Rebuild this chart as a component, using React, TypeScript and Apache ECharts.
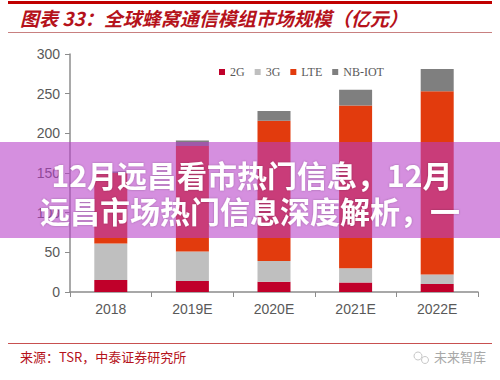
import React, { useEffect, useRef } from "react";
import * as echarts from "echarts";

const categories = ["2018", "2019E", "2020E", "2021E", "2022E"];
const seriesNames = ["2G", "3G", "LTE", "NB-IOT"];
const v2G = [15, 14, 13, 12, 10];
const v3G = [46, 37, 26, 18, 12];
const vLTE = [89, 133, 177, 205, 231];
const vNB = [2, 7, 12, 20, 28];
const seriesColors = ["#C0002A", "#BFBFBF", "#E23B0D", "#7F7F7F"];
const titleText = "图表 33：全球蜂窝通信模组市场规模（亿元）";
const sourceText = "来源：TSR，中泰证券研究所";
const overlayLine1 = "12月远昌看市热门信息，12月";
const overlayLine2 = "远昌市场热门信息深度解析，一";

export default function App() {
  const ref = useRef<HTMLDivElement>(null);
  useEffect(() => {
    document.body.style.margin = "0";
    const chart = echarts.init(ref.current!, null, { renderer: "svg" });
    const values = [v2G, v3G, vLTE, vNB];
    chart.setOption({
      animation: false,
      backgroundColor: "#ffffff",
      grid: { left: 70, right: 22, top: 54, bottom: 88, containLabel: false },
      legend: {
        data: seriesNames,
        left: 214,
        top: 61,
        itemWidth: 6,
        itemHeight: 6,
        itemGap: 10,
        icon: "rect",
        textStyle: { fontFamily: "Liberation Serif", fontSize: 12, color: "#595959" },
      },
      xAxis: {
        type: "category",
        data: categories,
        axisLine: { lineStyle: { color: "#8C8C8C", width: 1.5 } },
        axisTick: { show: true, length: 5, lineStyle: { color: "#8C8C8C" } },
        axisLabel: { fontFamily: "Liberation Sans", fontSize: 14, color: "#595959", margin: 10 },
      },
      yAxis: {
        type: "value",
        min: 0,
        max: 300,
        interval: 50,
        splitLine: { show: false },
        axisLine: { show: true, lineStyle: { color: "#8C8C8C", width: 1.5 } },
        axisTick: { show: true, length: 5, lineStyle: { color: "#8C8C8C" } },
        axisLabel: { fontFamily: "Liberation Sans", fontSize: 14, color: "#595959", margin: 10 },
      },
      series: seriesNames.map((name, i) => ({
        name,
        type: "bar",
        stack: "total",
        barWidth: 33,
        data: values[i],
        itemStyle: { color: seriesColors[i] },
      })),
      graphic: [
        { type: "rect", shape: { x: 8, y: 1, width: 484, height: 3 }, style: { fill: "#C00000" } },
        {
          type: "text",
          left: 20,
          top: 8,
          style: {
            text: titleText,
            fontFamily: "Noto Sans CJK SC",
            fontWeight: "bold",
            fontStyle: "italic",
            fontSize: 19,
            fill: "#B5121B",
          },
        },
        { type: "rect", shape: { x: 8, y: 32, width: 484, height: 1 }, style: { fill: "#C88080" } },
        { type: "rect", shape: { x: 8, y: 343, width: 484, height: 1 }, style: { fill: "#C85050" } },
        {
          type: "text",
          left: 20,
          top: 350,
          style: {
            text: sourceText,
            fontFamily: "Noto Sans CJK SC",
            fontSize: 13,
            fill: "#B5121B",
          },
        },
        { type: "circle", shape: { cx: 418, cy: 356, r: 4 }, style: { fill: "none", stroke: "#C8C8C8", lineWidth: 1 } },
        { type: "circle", shape: { cx: 425, cy: 360, r: 3.5 }, style: { fill: "none", stroke: "#C8C8C8", lineWidth: 1 } },
        {
          type: "text",
          left: 434,
          top: 350,
          style: {
            text: "未来智库",
            fontFamily: "Noto Sans CJK SC",
            fontSize: 13,
            fill: "#A8A8A8",
          },
        },
        {
          type: "rect",
          z: 100,
          shape: { x: 0, y: 142, width: 500, height: 96 },
          style: { fill: "rgba(182,62,200,0.58)" },
        },
        {
          type: "text",
          z: 101,
          x: 252,
          y: 174,
          style: {
            text: overlayLine1,
            fontFamily: "Noto Sans CJK SC",
            fontWeight: "bold",
            fontSize: 30,
            fill: "#ffffff",
            align: "center",
            verticalAlign: "middle",
            textShadowColor: "rgba(0,0,0,0.25)",
            textShadowBlur: 2,
          },
        },
        {
          type: "text",
          z: 101,
          x: 250,
          y: 210,
          style: {
            text: overlayLine2,
            fontFamily: "Noto Sans CJK SC",
            fontWeight: "bold",
            fontSize: 30,
            fill: "#ffffff",
            align: "center",
            verticalAlign: "middle",
            textShadowColor: "rgba(0,0,0,0.25)",
            textShadowBlur: 2,
          },
        },
      ],
    });
    return () => chart.dispose();
  }, []);
  return <div ref={ref} style={{ width: 500, height: 380 }} />;
}
